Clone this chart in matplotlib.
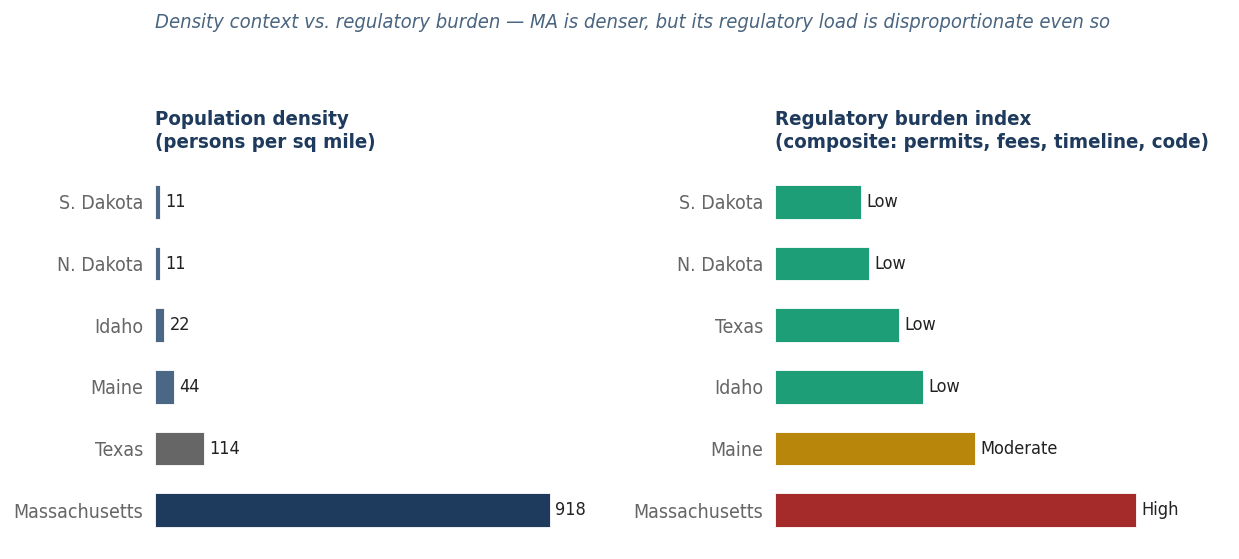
import matplotlib
matplotlib.use("Agg")
from matplotlib import pyplot as plt
from matplotlib import font_manager

# condensed DejaVu if the box has it
stretch = "normal"
for f in font_manager.fontManager.ttflist:
    if f.name == "DejaVu Sans" and f.stretch == "condensed":
        stretch = "condensed"
        break
plt.rcParams["font.family"] = ["DejaVu Sans"]
plt.rcParams["font.stretch"] = stretch

density_states = ["S. Dakota", "N. Dakota", "Idaho", "Maine", "Texas", "Massachusetts"]
density_values = [11, 11, 22, 44, 114, 918]
density_colors = ["#4a6785", "#4a6785", "#4a6785", "#4a6785", "#666666", "#1e3a5c"]

burden_states = ["S. Dakota", "N. Dakota", "Texas", "Idaho", "Maine", "Massachusetts"]
burden_values = [2.15, 2.35, 3.1, 3.7, 5.0, 9.0]
burden_labels = ["Low", "Low", "Low", "Low", "Moderate", "High"]
burden_colors = ["#1e9e76", "#1e9e76", "#1e9e76", "#1e9e76", "#b8860b", "#a52a2a"]

fig = plt.figure(figsize=(12.39, 5.59), dpi=100)
ax1 = fig.add_axes([155 / 1239, 18 / 559, 445 / 1239, 370 / 559])
ax2 = fig.add_axes([775 / 1239, 18 / 559, 445 / 1239, 370 / 559])


def panel(ax, states, values, colors, labels, xmax, title):
    y = range(len(states))
    ax.barh(y, values, height=0.55, color=colors, edgecolor="white", linewidth=0.6)
    ax.set_yticks(list(y))
    ax.set_yticklabels(states, fontsize=14, color="#666666")
    ax.set_ylim(len(states) - 0.5, -0.5)
    ax.set_xlim(0, xmax)
    ax.set_xticks([])
    ax.tick_params(axis="y", length=0, pad=8.5)
    for s in ax.spines.values():
        s.set_visible(False)
    for i, (v, lab) in enumerate(zip(values, labels)):
        ax.annotate(lab, (v, i), xytext=(3.8, 0), textcoords="offset points",
                    va="center", ha="left", fontsize=13, color="#222222")
    ax.text(0, 1.05, title, transform=ax.transAxes, ha="left", va="bottom",
            fontsize=14.7, fontweight="bold", color="#1e3a5c", linespacing=1.3)


panel(ax1, density_states, density_values, density_colors,
      [str(v) for v in density_values], 1035,
      "Population density\n(persons per sq mile)")
panel(ax2, burden_states, burden_values, burden_colors, burden_labels, 11.1,
      "Regulatory burden index\n(composite: permits, fees, timeline, code)")

fig.text(155 / 1239, 1 - 23 / 559,
         "Density context vs. regulatory burden \u2014 MA is denser, but its regulatory load is disproportionate even so",
         ha="left", va="center", fontsize=14.5, style="italic", color="#4a6580")

fig.savefig("out.png", dpi=100)
